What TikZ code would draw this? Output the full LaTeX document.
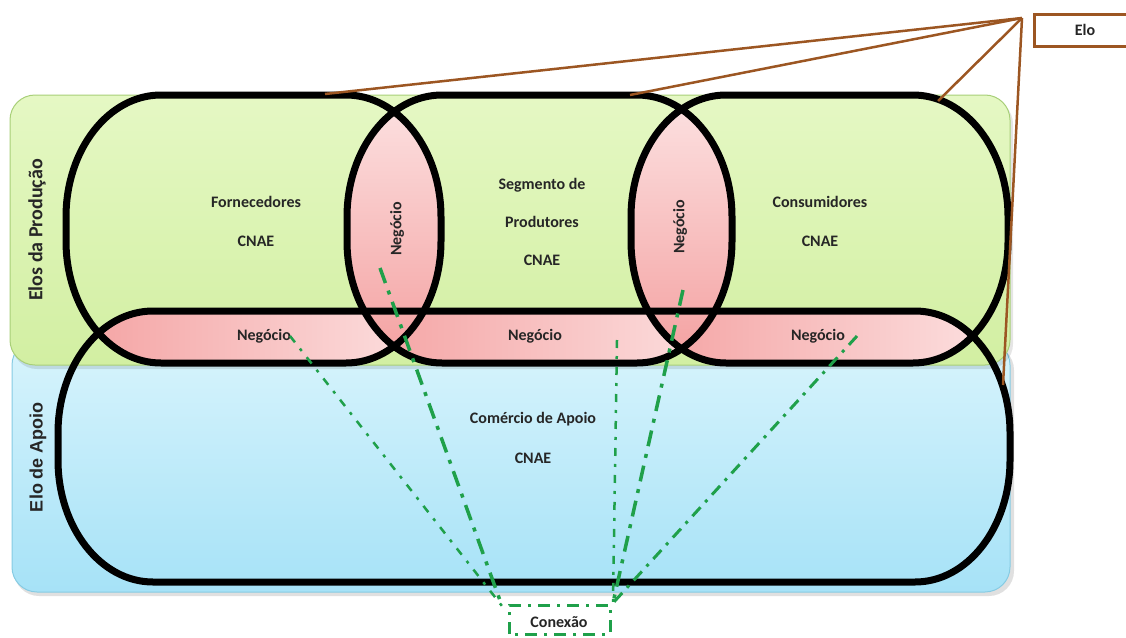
\documentclass[tikz,border=0pt]{standalone}
\usepackage{fontspec}
\setmainfont{Carlito}
\newfontfamily\arialfont{Liberation Sans}
\definecolor{greenTop}{HTML}{E5F8C4}
\definecolor{greenBot}{HTML}{D2EFA2}
\definecolor{greenEdge}{HTML}{A8CF78}
\definecolor{blueTop}{HTML}{D8F4FC}
\definecolor{blueBot}{HTML}{A6E2F7}
\definecolor{blueEdge}{HTML}{86CBE3}
\definecolor{pinkD}{HTML}{F4A0A0}
\definecolor{pinkL}{HTML}{FCE2E2}
\definecolor{brownL}{HTML}{9C5622}
\definecolor{greenD}{HTML}{1FA04A}
\definecolor{txt}{HTML}{262626}
% capsule: left, top, right, bottom (pixel units), elliptical corners 95 x 122
\def\capsule#1#2#3#4{(#1+95,#2) -- (#3-95,#2)
  arc[start angle=90, end angle=0, x radius=95pt, y radius=122pt] -- (#3,#4-122)
  arc[start angle=0, end angle=-90, x radius=95pt, y radius=122pt] -- (#1+95,#4)
  arc[start angle=270, end angle=180, x radius=95pt, y radius=122pt] -- (#1,#2+122)
  arc[start angle=180, end angle=90, x radius=95pt, y radius=122pt] -- cycle}
\begin{document}
\begin{tikzpicture}[x=1pt,y=-1pt,
  ring/.style={draw=black, line width=7pt},
  lbl/.style={font=\bfseries\fontsize{16}{18}\selectfont, text=txt, inner sep=0pt},
  side/.style={font=\bfseries\fontsize{20}{22}\selectfont, text=txt, rotate=90, inner sep=0pt},
  elo/.style={draw=brownL, line width=2.5pt},
  con/.style={draw=greenD, line width=3pt, dash pattern=on 12pt off 7pt on 3pt off 7pt},
  conthin/.style={draw=greenD, line width=2.5pt, dash pattern=on 8pt off 8pt on 3pt off 8pt},
  conthick/.style={draw=greenD, line width=3.5pt, dash pattern=on 16pt off 8pt on 4pt off 8pt}]
\useasboundingbox (0,0) rectangle (1126,637);
\clip (0,0) rectangle (1126,637);
% background panels
\fill[black, opacity=0.12, rounded corners=25pt] (14,345) rectangle (1014,596);
\shade[top color=blueTop, bottom color=blueBot, draw=blueEdge, line width=1pt, rounded corners=25pt] (12,340) rectangle (1010,592);
\fill[black, opacity=0.10, rounded corners=25pt] (12,99) rectangle (1013,369);
\shade[top color=greenTop, bottom color=greenBot, draw=greenEdge, line width=1pt, rounded corners=25pt] (10,95) rectangle (1010,365);
% pink overlaps: bands with the support link
\begin{scope}
  \clip \capsule{66}{95}{441}{363};
  \clip \capsule{58}{311}{1010}{582};
  \shade[left color=pinkD, right color=pinkL] (60,300) rectangle (441,370);
\end{scope}
\begin{scope}
  \clip \capsule{347}{95}{732}{363};
  \clip \capsule{58}{311}{1010}{582};
  \shade[left color=pinkD, right color=pinkL] (347,300) rectangle (732,370);
\end{scope}
\begin{scope}
  \clip \capsule{631}{95}{1008}{363};
  \clip \capsule{58}{311}{1010}{582};
  \shade[left color=pinkD, right color=pinkL] (631,300) rectangle (1008,370);
\end{scope}
% pink lenses
\begin{scope}
  \clip \capsule{66}{95}{441}{363};
  \clip \capsule{347}{95}{732}{363};
  \shade[top color=pinkL, bottom color=pinkD] (347,95) rectangle (441,363);
\end{scope}
\begin{scope}
  \clip \capsule{347}{95}{732}{363};
  \clip \capsule{631}{95}{1008}{363};
  \shade[top color=pinkL, bottom color=pinkD] (631,95) rectangle (732,363);
\end{scope}
% side labels
\node[side] (prod) at (37,230) {Elos da Produção};
\node[side, font=\arialfont\bfseries\fontsize{18}{20}\selectfont] (apoio) at (38,457) {Elo de Apoio};
% texts
\node[lbl] (forn) at (256,202) {Fornecedores};
\node[lbl] (forncnae) at (256,241) {CNAE};
\node[lbl] (seg1) at (542,185) {Segmento de};
\node[lbl] (seg2) at (542,222) {Produtores};
\node[lbl] (segcnae) at (542,260) {CNAE};
\node[lbl] (cons) at (820,202) {Consumidores};
\node[lbl] (conscnae) at (820,241) {CNAE};
\node[lbl, rotate=90] (ng1) at (397,229) {Negócio};
\node[lbl, rotate=90] (ng2) at (680,227) {Negócio};
\node[lbl] (nd1) at (264,336) {Negócio};
\node[lbl] (nd2) at (535,336) {Negócio};
\node[lbl] (nd3) at (818,336) {Negócio};
\node[lbl] (com) at (533,419) {Comércio de Apoio};
\node[lbl] (comcnae) at (533,458) {CNAE};
% black rings
\draw[ring] \capsule{66}{95}{441}{363};
\draw[ring] \capsule{347}{95}{732}{363};
\draw[ring] \capsule{631}{95}{1008}{363};
\draw[ring] \capsule{58}{311}{1010}{582};
% Elo label and brown connectors
\node[draw=brownL, line width=3pt, minimum width=108pt, minimum height=32pt, inner sep=0pt, anchor=north west] (elobox) at (1033,13) {};
\node[lbl] (elotxt) at (1085,30) {Elo};
\coordinate (apex) at (1022,18);
\coordinate (eA) at (325,94);
\coordinate (eB) at (630,95);
\coordinate (eC) at (938,101);
\coordinate (eD) at (1003,385);
\draw[elo] (apex) -- (eA);
\draw[elo] (apex) -- (eB);
\draw[elo] (apex) -- (eC);
\draw[elo] (apex) -- (eD);
% Conexao
\node[lbl] (cx) at (559,622) {Conexão};
\draw[con, line width=3pt] (509,634) -- (509,605) -- (610,605) -- (610,634) -- cycle;
\coordinate (cL) at (502,606);
\coordinate (cR) at (613,603);
\coordinate (g1) at (290,336);
\coordinate (g2) at (380,268);
\coordinate (g3) at (617,340);
\coordinate (g4) at (683,290);
\coordinate (g5) at (857,336);
\draw[conthin] (g1) -- (cL);
\draw[conthick] (g2) -- (cL);
\draw[conthin] (g3) -- (cR);
\draw[conthick] (g4) -- (cR);
\draw[con] (g5) -- (cR);
\end{tikzpicture}
\end{document}
